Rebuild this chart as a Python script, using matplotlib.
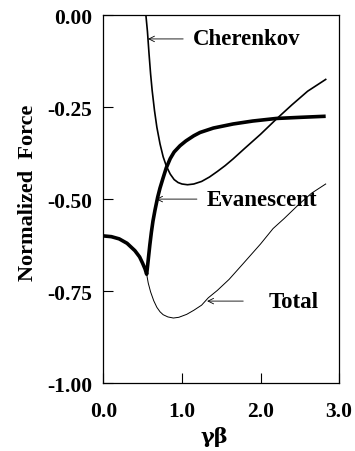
import matplotlib
matplotlib.use("Agg")
import matplotlib.pyplot as plt

plt.rcParams["font.family"] = ["Liberation Serif", "DejaVu Serif"]
plt.rcParams["font.weight"] = "bold"
plt.rcParams["axes.unicode_minus"] = False

# values (gamma*beta vs normalized force)
cher_x = [0.0, 0.54, 0.56, 0.58, 0.60, 0.62, 0.65, 0.68, 0.72, 0.76, 0.80, 0.85,
          0.90, 0.95, 1.00, 1.07, 1.15, 1.25, 1.35, 1.45, 1.55, 1.65, 1.80, 2.00,
          2.20, 2.40, 2.60, 2.83]
cher_y = [0.0, 0.0, -0.045, -0.105, -0.16, -0.205, -0.26, -0.305, -0.35, -0.385,
          -0.41, -0.432, -0.447, -0.455, -0.459, -0.461, -0.459, -0.452, -0.440,
          -0.425, -0.409, -0.391, -0.362, -0.324, -0.283, -0.244, -0.207, -0.175]

evan_x = [0.0, 0.10, 0.20, 0.30, 0.40, 0.46, 0.50, 0.53, 0.55, 0.57, 0.59, 0.61,
          0.63, 0.656, 0.69, 0.72, 0.76, 0.80, 0.85, 0.90, 0.975, 1.05, 1.15,
          1.23, 1.40, 1.65, 1.90, 2.20, 2.50, 2.83]
evan_y = [-0.600, -0.602, -0.608, -0.620, -0.640, -0.657, -0.675, -0.690, -0.704,
          -0.665, -0.625, -0.590, -0.560, -0.530, -0.495, -0.470, -0.442, -0.415,
          -0.390, -0.372, -0.355, -0.342, -0.328, -0.319, -0.307, -0.296, -0.288,
          -0.281, -0.278, -0.275]

total_x = [0.0, 0.10, 0.20, 0.30, 0.40, 0.46, 0.50, 0.53, 0.55, 0.57, 0.60, 0.64,
           0.68, 0.72, 0.76, 0.82, 0.89, 0.96, 1.06, 1.15, 1.25, 1.335, 1.45, 1.60,
           1.78, 2.00, 2.16, 2.30, 2.50, 2.65, 2.83]
total_y = [-0.600, -0.602, -0.608, -0.620, -0.640, -0.657, -0.675, -0.690, -0.704,
           -0.728, -0.752, -0.776, -0.794, -0.806, -0.814, -0.820, -0.823, -0.821,
           -0.813, -0.802, -0.788, -0.768, -0.748, -0.718, -0.675, -0.622, -0.580,
           -0.553, -0.512, -0.484, -0.459]

x_ticks = [0.0, 1.0, 2.0, 3.0]
y_ticks = [0.0, -0.25, -0.50, -0.75, -1.00]

fig = plt.figure(figsize=(3.55, 4.52), dpi=100)
ax = fig.add_axes([0.2915, 0.150, 0.6635, 0.8146])

ax.plot(total_x, total_y, color="black", lw=0.7)
ax.plot(cher_x, cher_y, color="black", lw=1.2)
ax.plot(evan_x, evan_y, color="black", lw=2.6, solid_capstyle="butt")

ax.set_xlim(0, 3)
ax.set_ylim(-1, 0)
ax.set_xticks(x_ticks)
ax.set_xticklabels([f"{v:.1f}" for v in x_ticks])
ax.set_yticks(y_ticks)
ax.set_yticklabels([f"{v:.2f}" for v in y_ticks])
ax.tick_params(direction="in", length=7, width=0.8, labelsize=15.5)
ax.tick_params(axis="x", pad=13)
ax.tick_params(axis="y", pad=8)
for s in ax.spines.values():
    s.set_linewidth(0.9)

ax.set_xlabel("γβ", fontsize=15, fontweight="bold", family="DejaVu Serif")
ax.xaxis.set_label_coords(0.47, -0.115)
ax.set_ylabel("Normalized  Force", fontsize=16, fontweight="bold")
ax.yaxis.set_label_coords(-0.28, 0.52)

arrow = dict(arrowstyle="->", color="black", lw=0.6, shrinkA=0, shrinkB=0)
ax.annotate("", xy=(0.567, -0.065), xytext=(1.015, -0.065), arrowprops=arrow)
ax.text(1.14, -0.065, "Cherenkov", fontsize=16.5, va="center", ha="left")
ax.annotate("", xy=(0.67, -0.50), xytext=(1.19, -0.50), arrowprops=arrow)
ax.text(1.32, -0.50, "Evanescent", fontsize=16.5, va="center", ha="left")
ax.annotate("", xy=(1.32, -0.777), xytext=(1.78, -0.777), arrowprops=arrow)
ax.text(2.10, -0.777, "Total", fontsize=16.5, va="center", ha="left")

fig.savefig("out.png", dpi=100)
